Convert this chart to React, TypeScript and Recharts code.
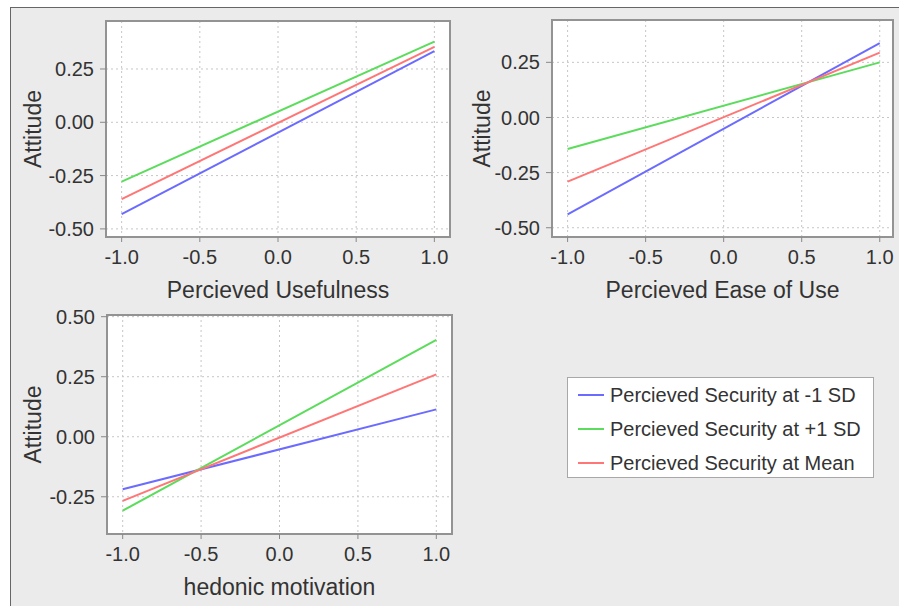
import {
  CartesianGrid,
  Legend,
  Line,
  LineChart,
  ReferenceArea,
  XAxis,
  YAxis,
} from "recharts";

const xValues = [-1, 1];
const xTicks = [-1, -0.5, 0, 0.5, 1];
const yTicksTop = [-0.5, -0.25, 0, 0.25];
const yTicksBottom = [-0.25, 0, 0.25, 0.5];

const seriesNames = [
  "Percieved Security at -1 SD",
  "Percieved Security at +1 SD",
  "Percieved Security at Mean",
];
const seriesColors = ["#6b6bff", "#5cdc5c", "#ff7676"];

// Attitude at x = -1 and x = 1
const usefulnessLow = [-0.431, 0.334];
const usefulnessHigh = [-0.278, 0.378];
const usefulnessMean = [-0.36, 0.354];

const easeLow = [-0.439, 0.337];
const easeHigh = [-0.143, 0.25];
const easeMean = [-0.291, 0.294];

const hedonicLow = [-0.219, 0.114];
const hedonicHigh = [-0.308, 0.403];
const hedonicMean = [-0.267, 0.26];

const FONT = '"Liberation Sans", Arial, sans-serif';
const TEXT = "#333";

interface PanelProps {
  xLabel: string;
  low: number[];
  high: number[];
  mean: number[];
  xDomain: [number, number];
  yDomain: [number, number];
  yTicks: number[];
  left: number;
  top: number;
  width: number;
  height: number;
  margin: { top: number; right: number; bottom: number; left: number };
  yAxisWidth: number;
  xAxisHeight: number;
  legend?: boolean;
}

const yLabel = ({ viewBox }: any) => {
  const x = viewBox.x + 41;
  const y = viewBox.y + viewBox.height / 2;
  return (
    <text
      fill={TEXT}
      fontSize={23}
      textAnchor="middle"
      transform={`rotate(-90 ${x} ${y})`}
      x={x}
      y={y}
    >
      Attitude
    </text>
  );
};

const xLabelFor = (text: string) => ({ viewBox }: any) => (
  <text
    fill={TEXT}
    fontSize={23}
    textAnchor="middle"
    x={viewBox.x + viewBox.width / 2}
    y={viewBox.y + 61}
  >
    {text}
  </text>
);

const renderLegend = ({ payload }: any) => {
  const items = [...(payload || [])].sort(
    (a: any, b: any) => seriesNames.indexOf(a.value) - seriesNames.indexOf(b.value)
  );
  return (
    <div
      style={{
        background: "#fff",
        border: "1px solid #a8a8a8",
        boxSizing: "border-box",
        height: 101,
        overflow: "visible",
        width: 307,
      }}
    >
      {items.map((item: any) => (
        <div
          key={item.value}
          style={{ alignItems: "center", display: "flex", height: 34 }}
        >
          <svg height={4} style={{ marginLeft: 10, marginRight: 6 }} width={26}>
            <line stroke={item.color} strokeWidth={2} x1={0} x2={26} y1={2} y2={2} />
          </svg>
          <span style={{ color: TEXT, fontFamily: FONT, fontSize: 20 }}>{item.value}</span>
        </div>
      ))}
    </div>
  );
};

function Panel(p: PanelProps) {
  const data = xValues.map((x, i) => ({
    x,
    low: p.low[i],
    high: p.high[i],
    mean: p.mean[i],
  }));
  return (
    <div style={{ left: p.left, position: "absolute", top: p.top }}>
      <LineChart data={data} height={p.height} margin={p.margin} width={p.width}>
        <CartesianGrid fill="#fff" stroke="#c6c6c6" strokeDasharray="2 3" />
        <XAxis
          allowDataOverflow
          axisLine={false}
          dataKey="x"
          domain={p.xDomain}
          height={p.xAxisHeight}
          interval={0}
          label={xLabelFor(p.xLabel)}
          tick={{ fill: TEXT, fontSize: 20 }}
          tickFormatter={(v: number) => v.toFixed(1)}
          tickLine={{ stroke: "#888" }}
          tickMargin={8}
          tickSize={5}
          ticks={xTicks}
          type="number"
        />
        <YAxis
          allowDataOverflow
          axisLine={false}
          domain={p.yDomain}
          interval={0}
          label={yLabel}
          tick={{ fill: TEXT, fontSize: 20 }}
          tickFormatter={(v: number) => v.toFixed(2)}
          tickLine={{ stroke: "#888" }}
          tickMargin={6}
          tickSize={6}
          ticks={p.yTicks}
          type="number"
          width={p.yAxisWidth}
        />
        <ReferenceArea
          fill="none"
          ifOverflow="visible"
          stroke="#939393"
          strokeWidth={2}
          x1={p.xDomain[0]}
          x2={p.xDomain[1]}
          y1={p.yDomain[0]}
          y2={p.yDomain[1]}
        />
        <Line dataKey="low" dot={false} isAnimationActive={false} name={seriesNames[0]} stroke={seriesColors[0]} strokeWidth={2} type="linear" />
        <Line dataKey="high" dot={false} isAnimationActive={false} name={seriesNames[1]} stroke={seriesColors[1]} strokeWidth={2} type="linear" />
        <Line dataKey="mean" dot={false} isAnimationActive={false} name={seriesNames[2]} stroke={seriesColors[2]} strokeWidth={2} type="linear" />
        {p.legend && (
          <Legend
            align="center"
            content={renderLegend}
            layout="vertical"
            verticalAlign="middle"
            wrapperStyle={{ height: 101, left: 567, top: 77, width: 307 }}
          />
        )}
      </LineChart>
    </div>
  );
}

export default function App() {
  return (
    <div
      style={{
        background: "#fff",
        fontFamily: FONT,
        height: 606,
        left: 0,
        overflow: "hidden",
        position: "absolute",
        top: 0,
        width: 899,
      }}
    >
      <div
        style={{
          background: "#ebebeb",
          borderLeft: "1px solid #666",
          borderTop: "1px solid #666",
          bottom: 0,
          left: 10,
          position: "absolute",
          right: 0,
          top: 7,
        }}
      />
      <Panel
        height={310}
        high={usefulnessHigh}
        left={0}
        low={usefulnessLow}
        margin={{ top: 21, right: 10, bottom: 0, left: 0 }}
        mean={usefulnessMean}
        top={0}
        width={460}
        xAxisHeight={73}
        xDomain={[-1.1, 1.1]}
        xLabel="Percieved Usefulness"
        yAxisWidth={106}
        yDomain={[-0.538, 0.475]}
        yTicks={yTicksTop}
      />
      <Panel
        height={310}
        high={easeHigh}
        left={449}
        low={easeLow}
        margin={{ top: 20, right: 6, bottom: 0, left: 0 }}
        mean={easeMean}
        top={0}
        width={450}
        xAxisHeight={73}
        xDomain={[-1.1, 1.085]}
        xLabel="Percieved Ease of Use"
        yAxisWidth={103}
        yDomain={[-0.542, 0.442]}
        yTicks={yTicksTop}
      />
      <Panel
        height={306}
        high={hedonicHigh}
        left={0}
        legend
        low={hedonicLow}
        margin={{ top: 15, right: 8, bottom: 0, left: 0 }}
        mean={hedonicMean}
        top={300}
        width={460}
        xAxisHeight={72}
        xDomain={[-1.1, 1.1]}
        xLabel="hedonic motivation"
        yAxisWidth={107}
        yDomain={[-0.405, 0.507]}
        yTicks={yTicksBottom}
      />
    </div>
  );
}
